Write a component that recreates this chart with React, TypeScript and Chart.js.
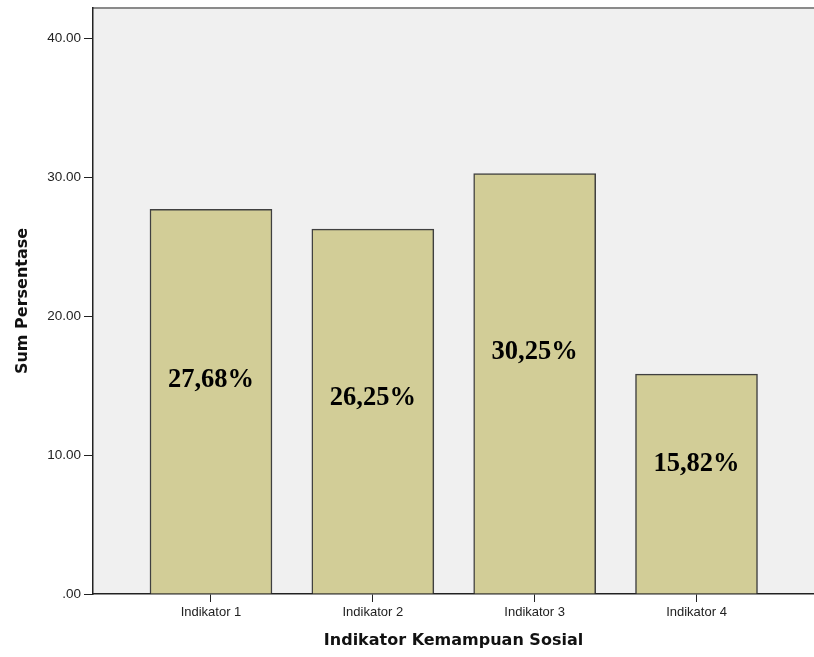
import React, { useEffect, useRef } from "react";
import { Chart, registerables } from "chart.js";

Chart.register(...registerables);

const categories = ["Indikator 1", "Indikator 2", "Indikator 3", "Indikator 4"];
const categoryPositions = [1, 2, 3, 4];
const sumPersentase = [27.68, 26.25, 30.25, 15.82];
const barLabels = ["27,68%", "26,25%", "30,25%", "15,82%"];
const barLabelLevels = [15.4, 14.1, 17.4, 9.35];
const yTickValues = [0, 10, 20, 30, 40];
const yAxisMax = 42.16;
const xAxisMin = 0.271;
const xAxisMax = 4.726;

const formatYTick = (v: number) => (v === 0 ? ".00" : v.toFixed(2));

export default function App() {
  const canvasRef = useRef<HTMLCanvasElement | null>(null);

  useEffect(() => {
    const canvas = canvasRef.current;
    if (!canvas) return;

    const backgroundPlugin = {
      id: "plotBackground",
      beforeDraw(chart: any) {
        const { ctx, chartArea } = chart;
        ctx.save();
        ctx.fillStyle = "#F0F0F0";
        ctx.fillRect(chartArea.left, chartArea.top, chartArea.right - chartArea.left, chartArea.bottom - chartArea.top);
        ctx.strokeStyle = "#8a8a8a";
        ctx.lineWidth = 2;
        ctx.beginPath();
        ctx.moveTo(chartArea.left, chartArea.top);
        ctx.lineTo(chartArea.right, chartArea.top);
        ctx.stroke();
        ctx.restore();
      },
    };

    const labelPlugin = {
      id: "barTextLabels",
      afterDatasetsDraw(chart: any) {
        const { ctx, scales } = chart;
        ctx.save();
        ctx.fillStyle = "#000000";
        ctx.font = "bold 26.5px 'Liberation Serif', 'Times New Roman', serif";
        ctx.textAlign = "center";
        ctx.textBaseline = "middle";
        barLabels.forEach((txt, i) => {
          const x = scales.x.getPixelForValue(categoryPositions[i]);
          const y = scales.y.getPixelForValue(barLabelLevels[i]);
          ctx.fillText(txt, x, y);
        });
        ctx.restore();
      },
    };

    const chart = new Chart(canvas, {
      type: "bar",
      data: {
        datasets: [
          {
            label: "Sum Persentase",
            data: categoryPositions.map((x, i) => ({ x, y: sumPersentase[i] })),
            backgroundColor: "#D2CD97",
            borderColor: "#404040",
            borderWidth: 1.5,
            barThickness: 122,
          },
        ],
      },
      options: {
        animation: false,
        responsive: false,
        devicePixelRatio: 1,
        layout: { padding: { top: 8, left: 0, right: 0, bottom: 0 } },
        plugins: {
          legend: { display: false },
          tooltip: { enabled: false },
        },
        scales: {
          x: {
            type: "linear",
            offset: false,
            min: xAxisMin,
            max: xAxisMax,
            afterBuildTicks: (axis: any) => {
              axis.ticks = categoryPositions.map((v) => ({ value: v }));
            },
            afterFit: (axis: any) => {
              axis.height = 63;
              axis.paddingLeft = 0;
              axis.paddingRight = 0;
            },
            ticks: {
              autoSkip: false,
              maxRotation: 0,
              padding: 3,
              color: "#222",
              font: { family: "'Liberation Sans', Arial, sans-serif", size: 13 },
              callback: (value: any) => {
                const idx = categoryPositions.indexOf(Number(value));
                return idx >= 0 ? categories[idx] : "";
              },
            },
            grid: {
              display: true,
              offset: false,
              drawOnChartArea: false,
              drawTicks: true,
              tickLength: 8,
              color: "#222",
            },
            border: { display: true, color: "#222", width: 1.5 },
            title: {
              display: true,
              text: "Indikator Kemampuan Sosial",
              color: "#111",
              font: { family: "'DejaVu Sans', sans-serif", size: 16, weight: "bold" },
              padding: { top: 0, bottom: 7 },
            },
          },
          y: {
            type: "linear",
            min: 0,
            max: yAxisMax,
            afterBuildTicks: (axis: any) => {
              axis.ticks = yTickValues.map((v) => ({ value: v }));
            },
            afterFit: (axis: any) => {
              axis.width = 93;
              axis.paddingTop = 0;
              axis.paddingBottom = 0;
            },
            ticks: {
              padding: 3,
              color: "#222",
              font: { family: "'Liberation Sans', Arial, sans-serif", size: 13.5 },
              callback: (value: any) => formatYTick(Number(value)),
            },
            grid: {
              display: true,
              drawOnChartArea: false,
              drawTicks: true,
              tickLength: 9,
              color: "#222",
            },
            border: { display: true, color: "#222", width: 1.5 },
            title: {
              display: true,
              text: "Sum Persentase",
              color: "#111",
              font: { family: "'DejaVu Sans', sans-serif", size: 16, weight: "bold" },
              padding: { top: 13, bottom: 0 },
            },
          },
        },
      },
      plugins: [backgroundPlugin, labelPlugin],
    } as any);

    return () => chart.destroy();
  }, []);

  return (
    <div style={{ position: "fixed", left: 0, top: 0, width: 814, height: 657, background: "#fff" }}>
      <canvas ref={canvasRef} width={814} height={657} style={{ display: "block" }} />
    </div>
  );
}
